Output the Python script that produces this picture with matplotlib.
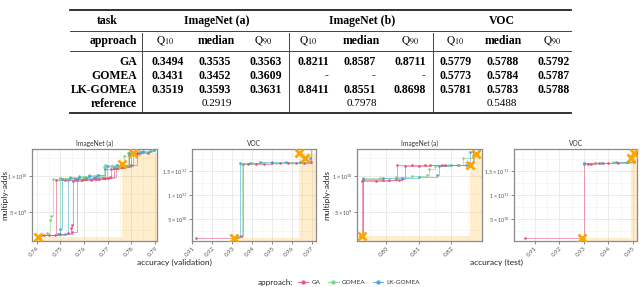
import numpy as np
import matplotlib.pyplot as plt
from matplotlib.lines import Line2D

plt.rcParams['font.family'] = ['Lato', 'DejaVu Sans']
plt.rcParams['mathtext.fontset'] = 'custom'
plt.rcParams['mathtext.rm'] = 'Lato'
plt.rcParams['mathtext.it'] = 'Lato:italic'
plt.rcParams['mathtext.bf'] = 'Lato:bold'

# ---- table data ----
tasks = ['ImageNet (a)', 'ImageNet (b)', 'VOC']
approaches = ['GA', 'GOMEA', 'LK-GOMEA']
ga_vals = ['0.3494', '0.3535', '0.3563', '0.8211', '0.8587', '0.8711', '0.5779', '0.5788', '0.5792']
gomea_vals = ['0.3431', '0.3452', '0.3609', '-', '-', '-', '0.5773', '0.5784', '0.5787']
lkgomea_vals = ['0.3519', '0.3593', '0.3631', '0.8411', '0.8551', '0.8698', '0.5781', '0.5783', '0.5788']
reference_vals = ['0.2919', '0.7978', '0.5488']

# ---- front data: accuracy, multiply-adds (x 1e9) ----
# ImageNet (a), validation
ina_val_ga = [
    ([0.7412, 0.7450, 0.7478, 0.7480, 0.7520, 0.7560, 0.7600, 0.7640, 0.7680, 0.7715, 0.7745, 0.7770, 0.7800, 0.7830, 0.7870],
     [1.70, 1.75, 1.80, 9.40, 9.50, 9.55, 9.60, 9.70, 9.80, 11.0, 11.1, 11.3, 13.1, 13.2, 13.3]),
    ([0.7420, 0.7490, 0.7530, 0.7545, 0.7550, 0.7555, 0.7590, 0.7630, 0.7665, 0.7700, 0.7725, 0.7760, 0.7790, 0.7790],
     [1.80, 1.85, 2.00, 2.70, 3.20, 9.30, 9.40, 9.50, 9.60, 9.70, 11.1, 11.3, 12.9, 20.0]),
    ([0.7430, 0.7500, 0.7550, 0.7570, 0.7610, 0.7650, 0.7690, 0.7710, 0.7735, 0.7765, 0.7800, 0.7825, 0.7825],
     [1.75, 1.90, 2.10, 9.50, 9.60, 9.65, 9.80, 9.90, 11.2, 11.4, 11.5, 13.3, 20.0]),
]
ina_val_gomea = [
    ([0.7415, 0.7445, 0.7455, 0.7462, 0.7468, 0.7500, 0.7540, 0.7580, 0.7620, 0.7660, 0.7685, 0.7720, 0.7760, 0.7770, 0.7800, 0.7840, 0.7885],
     [1.80, 2.00, 3.90, 4.40, 9.60, 9.80, 9.90, 10.0, 10.1, 10.2, 11.3, 11.4, 11.5, 12.8, 13.0, 13.4, 13.6]),
    ([0.7420, 0.7490, 0.7500, 0.7550, 0.7600, 0.7650, 0.7690, 0.7740, 0.7785, 0.7830],
     [1.75, 1.90, 9.70, 9.80, 9.90, 10.0, 11.5, 11.6, 13.2, 13.5]),
]
ina_val_lkgomea = [
    ([0.7418, 0.7495, 0.7500, 0.7505, 0.7540, 0.7580, 0.7620, 0.7660, 0.7690, 0.7725, 0.7760, 0.7805, 0.7850, 0.7895],
     [1.75, 1.85, 2.60, 9.60, 9.80, 9.90, 10.0, 10.1, 11.0, 11.2, 11.4, 13.3, 13.5, 13.6]),
    ([0.7420, 0.7520, 0.7530, 0.7570, 0.7610, 0.7650, 0.7695, 0.7740, 0.7790, 0.7840, 0.7880],
     [1.80, 1.95, 9.50, 9.60, 9.80, 9.90, 11.4, 11.5, 13.2, 13.4, 13.5]),
]
ina_val_ref_acc = [0.7407, 0.7759, 0.7808]
ina_val_ref_madds = [1.46, 11.64, 13.18]

# VOC, validation
voc_val_ga = [
    ([0.9118, 0.9330, 0.9345, 0.9352, 0.9380, 0.9420, 0.9460, 0.9500, 0.9540, 0.9580, 0.9620, 0.9660, 0.9695, 0.9695],
     [11.0, 12.0, 14.0, 165, 166, 166, 166, 167, 167, 168, 168, 168, 169, 250]),
]
voc_val_gomea = [
    ([0.9330, 0.9348, 0.9400, 0.9450, 0.9520, 0.9600, 0.9680],
     [12.0, 166, 167, 167, 168, 168, 169]),
]
voc_val_lkgomea = [
    ([0.9320, 0.9338, 0.9390, 0.9440, 0.9500, 0.9570, 0.9640, 0.9690],
     [13.0, 168, 168, 169, 169, 169, 170, 178]),
]
voc_val_ref_acc = [0.9311, 0.9633, 0.9667]
voc_val_ref_madds = [11.0, 188.6, 178.0]

# ImageNet (a), test
ina_test_ga = [
    ([0.7921, 0.7925, 0.7970, 0.8010, 0.8040, 0.8050, 0.8058, 0.8100, 0.8135, 0.8180, 0.8220, 0.8255, 0.8265],
     [1.60, 9.30, 9.35, 9.40, 9.50, 9.60, 11.4, 11.4, 11.5, 11.5, 11.6, 11.7, 13.5]),
    ([0.7925, 0.7928, 0.7990, 0.8030, 0.8035, 0.8080, 0.8120, 0.8170, 0.8255, 0.8270],
     [1.60, 9.40, 9.50, 9.60, 11.5, 11.5, 11.6, 11.6, 11.8, 13.2]),
]
ina_test_gomea = [
    ([0.7925, 0.7930, 0.7980, 0.8030, 0.8080, 0.8125, 0.8132, 0.8150, 0.8190, 0.8225, 0.8235, 0.8265],
     [1.60, 9.70, 9.80, 9.90, 10.0, 10.1, 11.0, 11.4, 11.5, 11.6, 12.6, 13.0]),
]
ina_test_lkgomea = [
    ([0.7925, 0.7930, 0.7990, 0.8050, 0.8100, 0.8155, 0.8162, 0.8200, 0.8245, 0.8258, 0.8285],
     [1.60, 9.60, 9.70, 9.80, 9.90, 10.1, 11.4, 11.5, 11.6, 13.4, 13.6]),
]
ina_test_ref_acc = [0.7925, 0.8256, 0.8275]
ina_test_ref_madds = [1.55, 11.6, 13.1]

# VOC, test
voc_test_ga = [
    ([0.9058, 0.9295, 0.9300, 0.9315, 0.9330, 0.9345, 0.9360, 0.9380, 0.9400, 0.9440, 0.9480, 0.9505],
     [10.0, 10.5, 166, 166, 166, 167, 167, 167, 168, 168, 169, 170]),
]
voc_test_gomea = [
    ([0.9300, 0.9350, 0.9420, 0.9490],
     [168, 168, 169, 170]),
]
voc_test_lkgomea = [
    ([0.9302, 0.9370, 0.9430, 0.9475, 0.9500],
     [168, 168, 169, 169, 172]),
]
voc_test_ref_acc = [0.9293, 0.9494, 0.9505]
voc_test_ref_madds = [11.0, 178.0, 188.6]

colors = {'GA': '#E34D78', 'GOMEA': '#7ED17E', 'LK-GOMEA': '#3DA5D9'}

W, H = 640, 287
def fx(x):
    return x / W
def fy(y):
    return 1 - y / H

fig = plt.figure(figsize=(6.4, 2.87), dpi=100)

# ---------------- table ----------------
serif = 'Liberation Serif'
fs = 8.5
col_right = [184, 231, 282, 329, 376, 426, 472, 519, 570]
head_x = [165, 216, 263, 308, 361, 410, 455, 503, 552]
group_x = [217, 362, 502]
row_y = [62, 76, 90]

def hline(y, lw):
    fig.add_artist(Line2D([fx(70), fx(571)], [fy(y), fy(y)], color='#222222', lw=lw))

hline(10, 1.3)
hline(31, 0.6)
hline(51, 0.6)
hline(113, 1.3)
for sx in [142, 289, 433]:
    fig.add_artist(Line2D([fx(sx), fx(sx)], [fy(33), fy(112)], color='#444444', lw=0.7))

fig.text(fx(107), fy(21), 'task', ha='center', va='center', fontsize=fs, fontweight='bold', family=serif)
for t, gx in zip(tasks, group_x):
    fig.text(fx(gx), fy(21), t, ha='center', va='center', fontsize=fs, fontweight='bold', family=serif)
fig.text(fx(137), fy(41), 'approach', ha='right', va='center', fontsize=fs, fontweight='bold', family=serif)
for i, hx in enumerate(head_x):
    if i % 3 == 1:
        fig.text(fx(hx), fy(41), 'median', ha='center', va='center', fontsize=fs, fontweight='bold', family=serif)
    else:
        lab = r'$\mathrm{Q}_{10}$' if i % 3 == 0 else r'$\mathrm{Q}_{90}$'
        fig.text(fx(hx), fy(41), lab, ha='center', va='center', fontsize=fs - 0.3, math_fontfamily='stix')

for name, vals, ry in zip(approaches, [ga_vals, gomea_vals, lkgomea_vals], row_y):
    fig.text(fx(137), fy(ry), name, ha='right', va='center', fontsize=fs, fontweight='bold', family=serif)
    for v, cx in zip(vals, col_right):
        if v == '-':
            fig.text(fx(cx - 1), fy(ry), v, ha='right', va='center', fontsize=fs, family=serif, color='#555555')
        else:
            fig.text(fx(cx), fy(ry), v, ha='right', va='center', fontsize=fs, fontweight='bold', family=serif)
fig.text(fx(137), fy(104), 'reference', ha='right', va='center', fontsize=fs, fontweight='bold', family=serif)
for v, gx in zip(reference_vals, group_x):
    fig.text(fx(gx), fy(104), v, ha='center', va='center', fontsize=fs - 0.5, family=serif)

# ---------------- panels ----------------
def make_ax(left, right, top=149, bottom=241):
    return fig.add_axes([fx(left), fy(bottom), (right - left) / W, (bottom - top) / H])

def panel(ax, runs, ref_acc, ref_madds, xlim, ylim, xticks, yticks, ylabels, title):
    order = np.argsort(ref_acc)
    ra = np.array(ref_acc)[order]
    rm = np.maximum.accumulate(np.array(ref_madds)[order])
    ax.fill_between(list(ra) + [xlim[1]], ylim[0] - 50, list(rm) + [rm[-1]],
                    step='post', color='orange', alpha=0.2, lw=0, zorder=1)
    for name in approaches:
        for acc, madds in runs[name]:
            ax.step(acc, madds, where='post', color=colors[name], lw=0.7, alpha=0.55, zorder=3)
            ax.plot(acc, madds, 'o', ms=2.0, color=colors[name], alpha=0.85, mew=0, zorder=4)
    ax.plot(ref_acc, ref_madds, 'x', ms=6, mew=2.0, color='#FFA500', zorder=6)
    ax.set_xticks(xticks)
    ax.set_xticklabels(['%.2f' % t for t in xticks], rotation=45, ha='right', va='top',
                       rotation_mode='anchor')
    ax.set_xticks([(a + b) / 2 for a, b in zip(xticks[:-1], xticks[1:])]
                  + [xticks[0] - (xticks[1] - xticks[0]) / 2, xticks[-1] + (xticks[1] - xticks[0]) / 2], minor=True)
    ax.set_yticks(yticks)
    ax.set_yticklabels(ylabels)
    step = yticks[1] - yticks[0]
    ax.set_yticks([yticks[0] - step / 2] + [t + step / 2 for t in yticks], minor=True)
    ax.set_xlim(xlim)
    ax.set_ylim(ylim)
    ax.grid(which='major', color='#e3e3e3', lw=0.5, zorder=0)
    ax.grid(which='minor', color='#f0f0f0', lw=0.4, zorder=0)
    ax.set_axisbelow(True)
    ax.tick_params(which='major', labelsize=4.0, labelcolor='#555555', length=2, width=0.5,
                   color='#555555', pad=1.2)
    ax.tick_params(axis='x', which='major', labelsize=4.4)
    ax.tick_params(which='minor', length=0)
    for s in ax.spines.values():
        s.set_color('#8a8a8a')
        s.set_linewidth(0.9)
    ax.set_title(title, fontsize=4.8, color='#333333', pad=2.5)

ax1 = make_ax(32, 157)
ax2 = make_ax(192, 316)
ax3 = make_ax(357, 482)
ax4 = make_ax(514, 637)

ina_ylim = (0.9, 13.8)
voc_ylim = (4.2, 196.4)
ina_yt = [5, 10]
ina_yl = [r'$5\times10^{9}$', r'$1\times10^{10}$']
voc_yt = [50, 100, 150]
voc_yl = [r'$5\times10^{10}$', r'$1\times10^{11}$', r'$1.5\times10^{11}$']

panel(ax1, {'GA': ina_val_ga, 'GOMEA': ina_val_gomea, 'LK-GOMEA': ina_val_lkgomea},
      ina_val_ref_acc, ina_val_ref_madds, (0.738, 0.7908), ina_ylim,
      [0.74, 0.75, 0.76, 0.77, 0.78, 0.79], ina_yt, ina_yl, 'ImageNet (a)')
panel(ax2, {'GA': voc_val_ga, 'GOMEA': voc_val_gomea, 'LK-GOMEA': voc_val_lkgomea},
      voc_val_ref_acc, voc_val_ref_madds, (0.9098, 0.972), voc_ylim,
      [0.91, 0.92, 0.93, 0.94, 0.95, 0.96, 0.97], voc_yt, voc_yl, 'VOC')
panel(ax3, {'GA': ina_test_ga, 'GOMEA': ina_test_gomea, 'LK-GOMEA': ina_test_lkgomea},
      ina_test_ref_acc, ina_test_ref_madds, (0.7911, 0.8294), ina_ylim,
      [0.80, 0.81, 0.82], ina_yt, ina_yl, 'ImageNet (a)')
panel(ax4, {'GA': voc_test_ga, 'GOMEA': voc_test_gomea, 'LK-GOMEA': voc_test_lkgomea},
      voc_test_ref_acc, voc_test_ref_madds, (0.9014, 0.9517), voc_ylim,
      [0.91, 0.92, 0.93, 0.94, 0.95], voc_yt, voc_yl, 'VOC')

fig.text(fx(4.5), fy(195), 'multiply-adds', rotation=90, ha='center', va='center', fontsize=6.0, color='#222222')
fig.text(fx(327), fy(195), 'multiply-adds', rotation=90, ha='center', va='center', fontsize=6.0, color='#222222')
fig.text(fx(174), fy(262), 'accuracy (validation)', ha='center', va='center', fontsize=6, color='#222222')
fig.text(fx(497), fy(262), 'accuracy (test)', ha='center', va='center', fontsize=6, color='#222222')

# legend
fig.text(fx(293), fy(282), 'approach:', ha='right', va='center', fontsize=5.8, color='#222222')
handles = [Line2D([0], [0], color=colors[a], lw=0.8, marker='o', ms=2.2, alpha=0.8) for a in approaches]
fig.legend(handles, approaches, ncol=3, loc='center left', bbox_to_anchor=(fx(295), fy(282)),
           frameon=False, fontsize=4.6, handlelength=1.6, handletextpad=0.5, columnspacing=1.2,
           borderpad=0, labelcolor='#333333')

fig.savefig('out.png', dpi=100)
